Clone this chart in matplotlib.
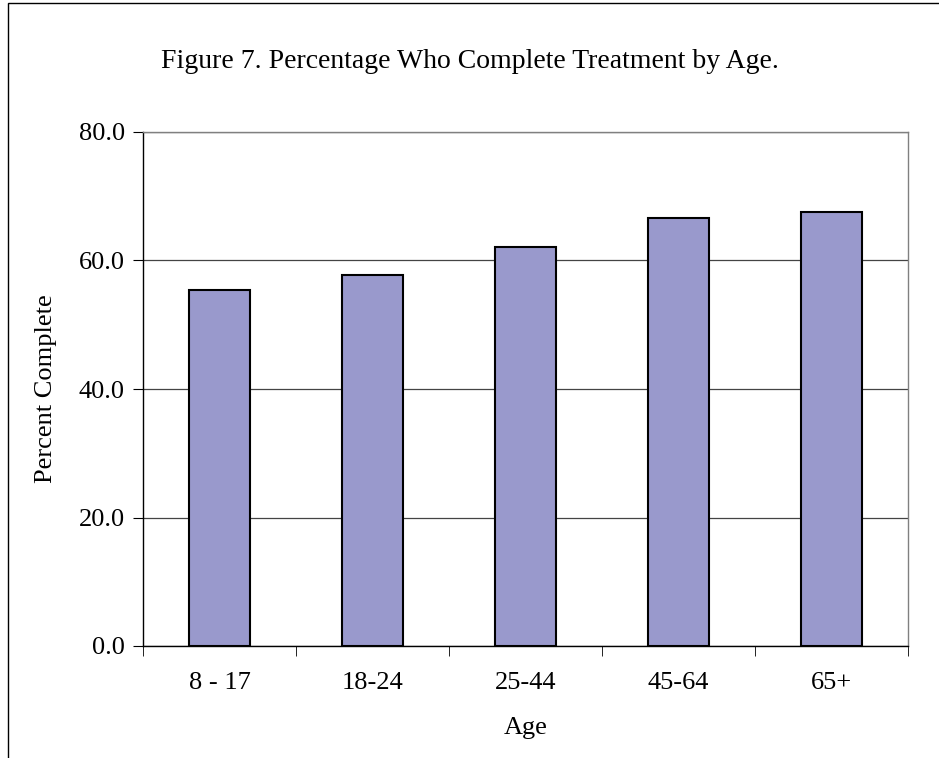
import matplotlib
matplotlib.use("Agg")
import matplotlib.pyplot as plt
from matplotlib.patches import Rectangle
import numpy as np

categories = ["8 - 17", "18-24", "25-44", "45-64", "65+"]
values = [55.4, 57.7, 62.1, 66.6, 67.5]
yticks = [0, 20, 40, 60, 80]

plt.rcParams['font.family'] = ['Liberation Serif', 'DejaVu Serif']

fig = plt.figure(figsize=(9.39, 7.58), dpi=100)
ax = fig.add_axes([143/939, 1-646/758, (908-143)/939, (646-132)/758])

x = np.arange(len(categories))
ax.bar(x, values, width=0.4, color="#9999CC", edgecolor="black", linewidth=1.5, zorder=3)

ax.set_xlim(-0.5, len(categories)-0.5)
ax.set_ylim(0, 80)
ax.set_yticks(yticks)
ax.set_yticklabels([f"{v:.1f}" for v in yticks], fontsize=19)
ax.yaxis.grid(True, color="#444444", linewidth=0.9, zorder=0)
ax.set_xticks(x)
ax.set_xticklabels(categories, fontsize=19)
ax.tick_params(axis='x', length=0, pad=19)
ax.set_xticks(np.arange(-0.5, len(categories), 1), minor=True)
ax.tick_params(axis='x', which='minor', length=7, direction='out', color='black')
ax.tick_params(axis='y', length=7, direction='out', color='black', pad=6)

for s in ["top", "right"]:
    ax.spines[s].set_color("#808080")
    ax.spines[s].set_linewidth(1.0)
for s in ["left", "bottom"]:
    ax.spines[s].set_color("black")
    ax.spines[s].set_linewidth(1.0)

ax.set_ylabel("Percent Complete", fontsize=19, labelpad=16)
ax.set_xlabel("Age", fontsize=19, labelpad=16)

fig.text(470/939, 1-61/758, "Figure 7. Percentage Who Complete Treatment by Age.",
         ha="center", va="center", fontsize=20)

fig.patches.append(Rectangle((8/939, -0.05), 1.2, 1-3/758+0.05, transform=fig.transFigure,
                             fill=False, edgecolor="black", linewidth=1.0))

fig.savefig("out.png", dpi=100)
